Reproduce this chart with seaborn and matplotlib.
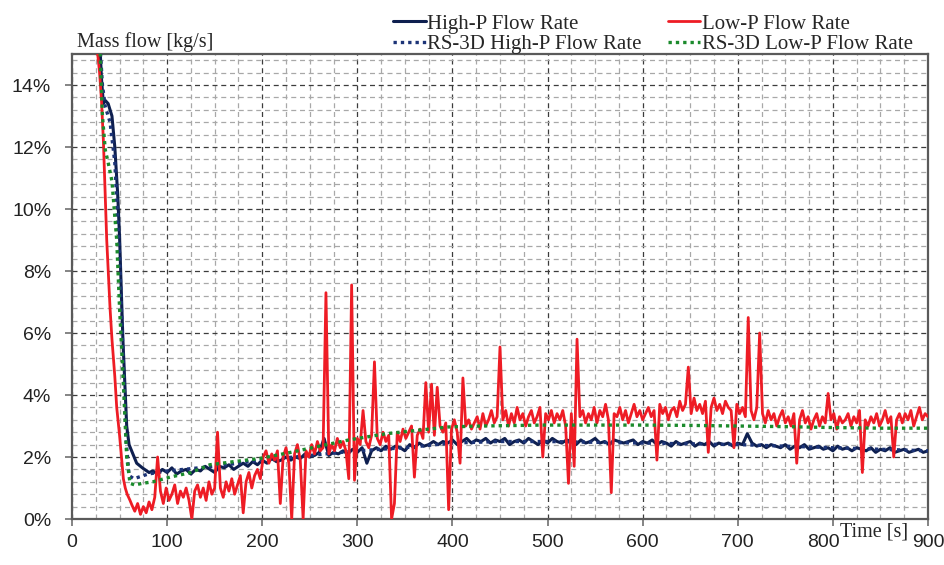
import numpy as np
import pandas as pd
import matplotlib
matplotlib.use("Agg")
import matplotlib.pyplot as plt
import matplotlib.transforms as mtransforms
from matplotlib.ticker import MultipleLocator, FuncFormatter
import seaborn as sns

# ---- data (mass flow in %) ----
# High-P: start-up transient, then samples every 5 s from t=85
hp_t0 = [29, 31, 33, 35, 38, 42, 45, 48, 50, 53.5, 55.5, 57.5, 60, 64, 68, 74, 81]
hp_v0 = [15.5, 14.2, 13.4, 13.5, 13.4, 13.0, 12.0, 10.5, 9.1, 5.8, 4.4, 3.0, 2.4, 2.1, 1.8, 1.65, 1.5]
hp_v1 = [1.55, 1.45, 1.6, 1.5, 1.65, 1.45, 1.55, 1.6, 1.45, 1.6,
         1.55, 1.7, 1.6, 1.5, 1.7, 1.65, 1.75, 1.6, 1.7, 1.8,
         1.7, 1.85, 1.75, 1.9, 1.8, 1.95, 1.85, 1.9, 2.0, 1.9,
         2.0, 1.95, 2.1, 2.0, 2.05, 2.15, 2.6, 2.05, 2.15, 2.1,
         2.2, 2.1, 2.25, 2.15, 2.3, 1.8, 2.2, 2.3, 2.2, 2.35,
         2.25, 2.35, 2.3, 2.2, 2.4, 2.3, 2.45, 2.35, 2.4, 2.5,
         2.4, 2.5, 2.45, 2.55, 2.4, 2.5, 2.6, 2.45, 2.55, 2.5,
         2.6, 2.45, 2.55, 2.5, 2.6, 2.4, 2.5, 2.55, 2.45, 2.6,
         2.5, 2.4, 2.55, 2.45, 2.6, 2.5, 2.45, 2.55, 2.5, 2.4,
         2.55, 2.45, 2.5, 2.6, 2.45, 2.5, 2.4, 2.55, 2.5, 2.45,
         2.5, 2.55, 2.4, 2.5, 2.45, 2.55, 2.4, 2.5, 2.45, 2.35,
         2.5, 2.4, 2.45, 2.5, 2.35, 2.45, 2.4, 2.5, 2.35, 2.45,
         2.4, 2.45, 2.35, 2.45, 2.4, 2.75, 2.45, 2.35, 2.4, 2.3,
         2.4, 2.35, 2.3, 2.4, 2.25, 2.35, 2.3, 2.4, 2.25, 2.3,
         2.35, 2.25, 2.3, 2.2, 2.35, 2.25, 2.3, 2.2, 2.3, 2.25,
         2.2, 2.3, 2.15, 2.25, 2.2, 2.3, 2.15, 2.2, 2.25, 2.15,
         2.2, 2.25, 2.15, 2.2]

# Low-P: start-up transient, then samples every 3 s from t=63
lp_t0 = [24, 26, 29, 31, 33, 36.5, 40, 42, 45, 47, 50, 52, 54, 56, 58, 61]
lp_v0 = [16.5, 15.3, 14.4, 13.5, 12.2, 9.0, 6.8, 5.8, 4.6, 3.6, 2.7, 2.0, 1.3, 1.0, 0.8, 0.6]
lp_v1 = [0.45, 0.25, 0.5, 0.15, 0.4, 0.2, 0.55, 0.3, 0.7, 2.0,
         0.9, 0.5, 1.0, 0.6, 0.8, 1.1, 0.5, 0.9, 0.7, 1.0,
         0.6, 0.0, 0.9, 1.1, 0.7, 1.0, 0.6, 1.2, 0.8, 1.0,
         2.8, 1.0, 0.7, 1.2, 0.9, 1.3, 0.8, 1.1, 1.4, 0.2,
         1.2, 1.5, 1.0, 1.4, 1.6, 1.3, 2.0, 2.2, 1.8, 2.1,
         1.9, 2.2, 0.5, 2.0, 2.3, 1.8, 0.0, 2.1, 2.4, 1.9,
         0.0, 2.2, 2.0, 2.4, 2.1, 2.5, 2.2, 2.3, 7.3, 2.1,
         2.4, 2.2, 2.6, 2.3, 2.5, 2.2, 1.3, 7.55, 1.25, 2.6,
         2.4, 3.5, 2.5, 2.3, 2.7, 5.07, 2.6, 2.4, 2.8, 2.5,
         2.7, 0.0, 0.5, 2.8, 2.5, 2.9, 2.6, 2.8, 3.0, 1.35,
         2.7, 2.9, 2.6, 4.4, 2.8, 4.35, 2.7, 4.25, 3.0, 2.8,
         3.1, 0.3, 2.9, 3.2, 2.8, 1.8, 4.55, 3.0, 3.2, 2.9,
         3.1, 3.3, 2.9, 3.4, 3.0, 3.2, 3.5, 3.1, 3.3, 5.55,
         3.2, 3.5, 3.0, 3.4, 3.1, 3.6, 3.2, 3.4, 3.0, 3.3,
         3.5, 3.1, 3.3, 3.6, 2.0, 3.4, 3.2, 3.5, 3.1, 3.4,
         3.2, 3.5, 3.0, 1.15, 3.4, 1.7, 5.8, 3.3, 3.5, 3.1,
         3.4, 3.2, 3.6, 3.1, 3.5, 3.3, 3.7, 3.2, 0.85, 3.4,
         3.3, 3.6, 3.2, 3.5, 3.1, 3.4, 3.7, 3.3, 3.5, 3.2,
         3.4, 3.6, 3.3, 3.5, 1.9, 3.7, 3.4, 3.6, 3.2, 3.5,
         3.6, 3.3, 3.8, 3.5, 3.7, 4.9, 3.4, 3.9, 3.5, 3.7,
         3.4, 3.8, 2.15, 3.6, 3.9, 3.5, 3.7, 3.4, 3.8, 3.6,
         3.5, 2.3, 3.7, 3.4, 3.6, 3.3, 6.5, 3.5, 3.2, 3.6,
         6.0, 3.4, 3.1, 3.5, 3.2, 3.4, 3.0, 3.3, 3.5, 3.1,
         3.3, 3.0, 3.4, 1.8, 3.2, 3.5, 3.1, 3.3, 2.9, 3.2,
         3.4, 3.0, 3.3, 3.1, 4.05, 3.2, 3.4, 2.9, 3.3, 3.1,
         3.2, 3.4, 3.0, 3.3, 3.1, 3.5, 1.5, 3.2, 3.0, 3.3,
         3.1, 3.4, 3.0, 3.2, 3.5, 3.1, 3.3, 2.0, 3.2, 3.4,
         3.1, 3.4, 3.2, 3.5, 3.0, 3.3, 3.6, 3.2, 3.4, 3.3]

# RS-3D simulation results (smooth)
rs_hp_t = [29, 32, 35, 40, 45, 50, 54, 57, 60, 65, 70, 80, 100, 150, 200, 250,
           300, 350, 400, 450, 500, 600, 700, 800, 900]
rs_hp_v = [15.5, 14.0, 13.3, 12.8, 11.5, 8.5, 5.0, 2.5, 1.4, 1.3, 1.35, 1.45, 1.55,
           1.7, 1.9, 2.05, 2.2, 2.3, 2.45, 2.5, 2.5, 2.45, 2.4, 2.3, 2.2]
rs_lp_t = [29, 32, 35, 38, 42, 47, 50, 53.5, 57.5, 61, 66, 74, 85, 103, 125, 145,
           170, 197, 230, 260, 291, 330, 360, 396, 430, 493, 550, 600, 650, 700,
           750, 800, 850, 900]
rs_lp_v = [15.5, 13.0, 11.9, 11.5, 10.9, 9.0, 6.8, 4.7, 2.0, 1.15, 1.1, 1.15, 1.2,
           1.35, 1.5, 1.75, 1.85, 1.95, 2.15, 2.35, 2.55, 2.75, 2.85, 2.97, 3.0,
           3.03, 3.03, 3.03, 3.02, 3.0, 2.98, 2.95, 2.93, 2.93]

hp = pd.DataFrame({"t": hp_t0 + list(85 + 5 * np.arange(len(hp_v1))),
                   "v": hp_v0 + hp_v1})
lp = pd.DataFrame({"t": lp_t0 + list(63 + 3 * np.arange(len(lp_v1))),
                   "v": lp_v0 + lp_v1})
rs_hp = pd.DataFrame({"t": rs_hp_t, "v": rs_hp_v})
rs_lp = pd.DataFrame({"t": rs_lp_t, "v": rs_lp_v})

sns.set_style("white")
plt.rcParams["font.family"] = ["Liberation Sans", "DejaVu Sans"]
serif = ["Liberation Serif", "DejaVu Serif"]

fig = plt.figure(figsize=(9.45, 5.65), dpi=100)
ax = fig.add_axes([0.0762, 0.0814, 0.9058, 0.823])

navy = "#0e1f4f"
red = "#ee1c25"
sns.lineplot(data=hp, x="t", y="v", ax=ax, color=navy, lw=2.2,
             label="High-P Flow Rate", estimator=None, zorder=3)
sns.lineplot(data=rs_hp, x="t", y="v", ax=ax, color="#1c3477", lw=2.4,
             linestyle=(0, (1, 1.2)), label="RS-3D High-P Flow Rate",
             estimator=None, zorder=3.5)
sns.lineplot(data=lp, x="t", y="v", ax=ax, color=red, lw=2.0,
             label="Low-P Flow Rate", estimator=None, zorder=4)
sns.lineplot(data=rs_lp, x="t", y="v", ax=ax, color="#1b8a2c", lw=2.4,
             linestyle=(0, (1, 1.2)), label="RS-3D Low-P Flow Rate",
             estimator=None, zorder=5)

ax.set_xlim(0, 900)
ax.set_ylim(0, 15)
ax.xaxis.set_major_locator(MultipleLocator(100))
ax.xaxis.set_minor_locator(MultipleLocator(25))
ax.yaxis.set_major_locator(MultipleLocator(2))
ax.yaxis.set_minor_locator(MultipleLocator(0.4))
ax.yaxis.set_major_formatter(FuncFormatter(lambda v, p: f"{v:.0f}%"))
ax.grid(which="major", color="#3c3c3c", lw=0.9, linestyle=(0, (4, 3)))
ax.grid(which="minor", color="#a8a8a8", lw=0.9, linestyle=(0, (4, 3)))
ax.set_axisbelow(True)
ax.tick_params(which="major", direction="out", length=5, width=1.2,
               color="#707070", labelsize=14, labelcolor="#222222",
               bottom=True, left=True)
ax.tick_params(axis="y", pad=10)
ax.tick_params(axis="x", pad=6)
ax.tick_params(which="minor", length=0)
for s in ax.spines.values():
    s.set_color("#5a5a5a")
    s.set_linewidth(1.6)
ax.set_xlabel("")
ax.set_ylabel("")

# the "800" label is nudged left to make room for the axis title
fig.canvas.draw()
for lab in ax.get_xticklabels():
    if lab.get_text() == "800":
        lab.set_transform(lab.get_transform() +
                          mtransforms.ScaledTranslation(-0.09, 0, fig.dpi_scale_trans))

h, l = ax.get_legend_handles_labels()
ax.get_legend().remove()
fig.legend(h, l, loc="lower right", bbox_to_anchor=(0.966, 0.904), ncol=2,
           frameon=False, prop={"family": serif, "size": 15},
           handlelength=1.55, handletextpad=0.08, columnspacing=1.25,
           labelspacing=0.05, borderpad=0, borderaxespad=0)

fig.text(77 / 945, 1 - 47 / 565, "Mass flow [kg/s]", family=serif, fontsize=14.5,
         va="baseline", ha="left")
fig.text(840 / 945, 1 - 536 / 565, "Time [s]", family=serif, fontsize=14.5,
         va="baseline", ha="left", zorder=10,
         bbox=dict(facecolor="white", edgecolor="none", pad=0.5))

fig.savefig("out.png", dpi=100)
